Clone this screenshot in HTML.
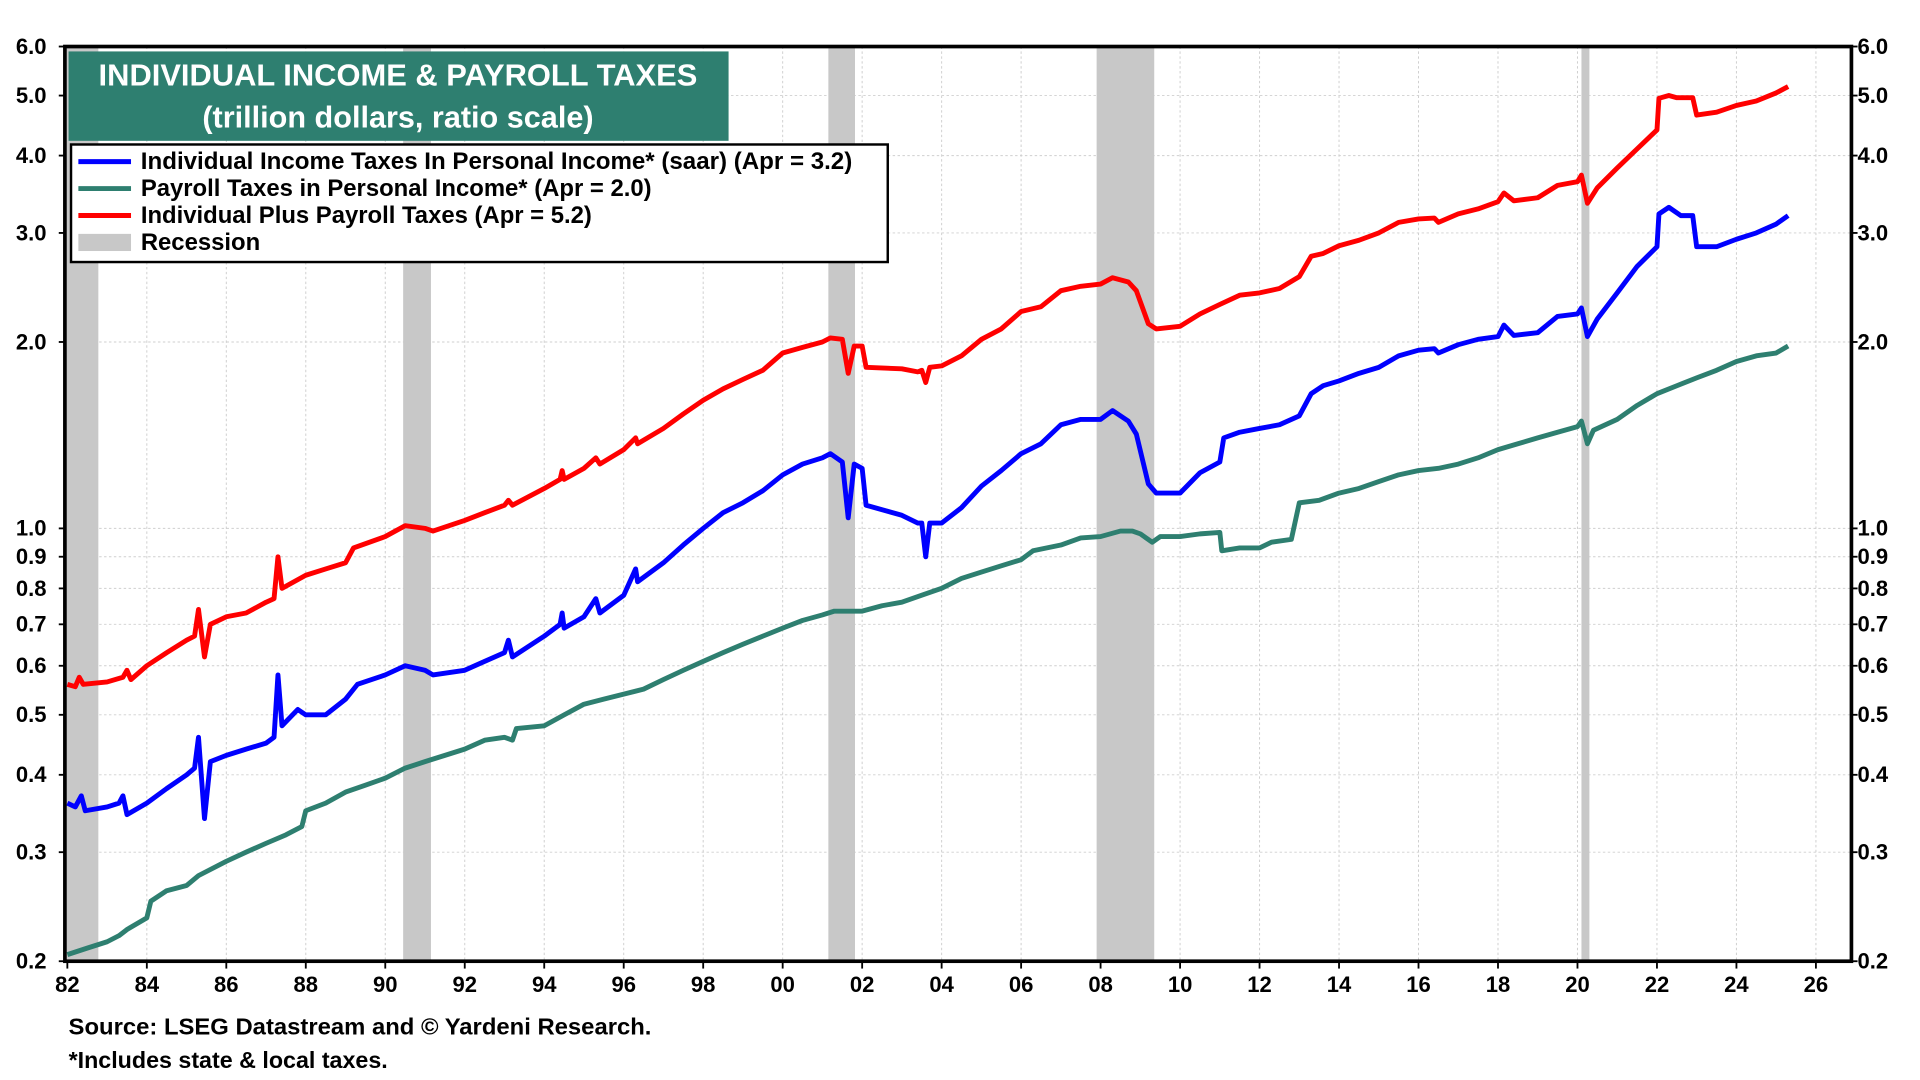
<!DOCTYPE html>
<html><head><meta charset="utf-8"><style>
html,body{margin:0;padding:0;background:#fff;width:1920px;height:1080px;overflow:hidden}
text{font-family:"Liberation Sans",Arial,sans-serif;font-weight:bold}
</style></head><body>
<svg id="chart" xmlns="http://www.w3.org/2000/svg" width="1920" height="1080" viewBox="0 0 1568 882">
<g id="grid"></g>
<g id="rec"></g>
<g id="lines"></g>
<rect x="53" y="38" width="1459" height="747" fill="none" stroke="#000" stroke-width="3"/>
<g id="axes"></g>
<g>
<rect x="56" y="42" width="539" height="73" fill="#2e7f70"/>
<text x="325" y="70" fill="#fff" font-size="25" text-anchor="middle" textLength="489" lengthAdjust="spacingAndGlyphs">INDIVIDUAL INCOME &amp; PAYROLL TAXES</text>
<text x="325" y="104" fill="#fff" font-size="25" text-anchor="middle">(trillion dollars, ratio scale)</text>
</g>
<g>
<rect x="58" y="118" width="667" height="96" fill="#fff" stroke="#000" stroke-width="2"/>
<line x1="64" y1="132" x2="107" y2="132" stroke="#0000ff" stroke-width="4"/>
<text x="115" y="138" font-size="19.5" textLength="581" lengthAdjust="spacingAndGlyphs">Individual Income Taxes In Personal Income* (saar) (Apr = 3.2)</text>
<line x1="64" y1="154" x2="107" y2="154" stroke="#2e7f70" stroke-width="4"/>
<text x="115" y="160" font-size="19.5">Payroll Taxes in Personal Income*  (Apr = 2.0)</text>
<line x1="64" y1="176" x2="107" y2="176" stroke="#ff0000" stroke-width="4"/>
<text x="115" y="182" font-size="19.5">Individual Plus Payroll Taxes (Apr = 5.2)</text>
<rect x="64" y="191" width="43" height="14" fill="#c8c8c8"/>
<text x="115" y="204" font-size="19.5">Recession</text>
</g>
<text x="56" y="845" font-size="19" textLength="476" lengthAdjust="spacingAndGlyphs">Source: LSEG Datastream and © Yardeni Research.</text>
<text x="56" y="872" font-size="19">*Includes state &amp; local taxes.</text>
</svg>
<script>
const yTicks=[6,5,4,3,2,1,0.9,0.8,0.7,0.6,0.5,0.4,0.3,0.2];
const yTickLabels=["6.0","5.0","4.0","3.0","2.0","1.0","0.9","0.8","0.7","0.6","0.5","0.4","0.3","0.2"];
const xTicks=[1982,1984,1986,1988,1990,1992,1994,1996,1998,2000,2002,2004,2006,2008,2010,2012,2014,2016,2018,2020,2022,2024,2026];
const xTickLabels=["82","84","86","88","90","92","94","96","98","00","02","04","06","08","10","12","14","16","18","20","22","24","26"];
const recStart=[1981.55,1990.45,2001.15,2007.9,2020.1];
const recEnd=[1982.78,1991.15,2001.82,2009.35,2020.3];
const redYears=[1982,1982.2,1982.3,1982.4,1983,1983.4,1983.5,1983.6,1984,1984.5,1985,1985.2,1985.3,1985.45,1985.6,1986,1986.5,1987,1987.2,1987.3,1987.4,1988,1988.5,1989,1989.2,1990,1990.5,1991,1991.2,1992,1992.5,1993,1993.1,1993.2,1994,1994.4,1994.45,1994.5,1995,1995.3,1995.4,1996,1996.3,1996.35,1997,1997.5,1998,1998.5,1999,1999.5,2000,2000.5,2001,2001.2,2001.5,2001.65,2001.8,2002,2002.1,2003,2003.4,2003.5,2003.6,2003.7,2004,2004.5,2005,2005.5,2006,2006.5,2007,2007.5,2008,2008.3,2008.7,2008.9,2009.2,2009.4,2010,2010.5,2011,2011.5,2012,2012.5,2013,2013.3,2013.6,2014,2014.5,2015,2015.5,2016,2016.4,2016.5,2017,2017.5,2018,2018.15,2018.4,2019,2019.5,2020,2020.1,2020.25,2020.5,2021,2021.5,2022,2022.05,2022.3,2022.5,2022.9,2023,2023.5,2024,2024.5,2025,2025.3];
const redValues=[0.56,0.555,0.575,0.56,0.565,0.575,0.59,0.57,0.60,0.63,0.66,0.67,0.74,0.62,0.70,0.72,0.73,0.76,0.77,0.90,0.80,0.84,0.86,0.88,0.93,0.97,1.01,1.0,0.99,1.03,1.06,1.09,1.11,1.09,1.16,1.2,1.24,1.2,1.25,1.3,1.27,1.34,1.40,1.37,1.45,1.53,1.61,1.68,1.74,1.80,1.92,1.96,2.0,2.03,2.02,1.78,1.97,1.97,1.82,1.81,1.79,1.80,1.72,1.82,1.83,1.90,2.02,2.10,2.24,2.28,2.42,2.46,2.48,2.54,2.50,2.42,2.14,2.10,2.12,2.22,2.30,2.38,2.40,2.44,2.55,2.75,2.78,2.86,2.92,3.0,3.12,3.16,3.17,3.12,3.22,3.28,3.37,3.48,3.38,3.42,3.58,3.63,3.72,3.35,3.55,3.82,4.1,4.4,4.95,5.0,4.96,4.96,4.65,4.70,4.82,4.90,5.05,5.17];
const blueYears=[1982,1982.2,1982.35,1982.45,1983,1983.3,1983.4,1983.5,1984,1984.5,1985,1985.2,1985.3,1985.45,1985.6,1986,1986.5,1987,1987.2,1987.3,1987.4,1987.8,1988,1988.5,1989,1989.3,1990,1990.5,1991,1991.2,1992,1992.5,1993,1993.1,1993.2,1994,1994.4,1994.45,1994.5,1995,1995.3,1995.4,1996,1996.3,1996.35,1997,1997.5,1998,1998.5,1999,1999.5,2000,2000.5,2001,2001.2,2001.5,2001.65,2001.8,2002,2002.1,2003,2003.4,2003.5,2003.6,2003.7,2004,2004.5,2005,2005.5,2006,2006.5,2007,2007.5,2008,2008.3,2008.7,2008.9,2009.2,2009.4,2010,2010.5,2011,2011.1,2011.5,2012,2012.5,2013,2013.3,2013.6,2014,2014.5,2015,2015.5,2016,2016.4,2016.5,2017,2017.5,2018,2018.15,2018.4,2019,2019.5,2020,2020.1,2020.25,2020.5,2021,2021.5,2022,2022.05,2022.3,2022.6,2022.9,2023,2023.5,2024,2024.5,2025,2025.3];
const blueValues=[0.36,0.355,0.37,0.35,0.355,0.36,0.37,0.345,0.36,0.38,0.40,0.41,0.46,0.34,0.42,0.43,0.44,0.45,0.46,0.58,0.48,0.51,0.50,0.50,0.53,0.56,0.58,0.60,0.59,0.58,0.59,0.61,0.63,0.66,0.62,0.67,0.70,0.73,0.69,0.72,0.77,0.73,0.78,0.86,0.82,0.88,0.94,1.0,1.06,1.10,1.15,1.22,1.27,1.30,1.32,1.28,1.04,1.27,1.25,1.09,1.05,1.02,1.02,0.90,1.02,1.02,1.08,1.17,1.24,1.32,1.37,1.47,1.50,1.50,1.55,1.49,1.42,1.18,1.14,1.14,1.23,1.28,1.40,1.43,1.45,1.47,1.52,1.65,1.70,1.73,1.78,1.82,1.90,1.94,1.95,1.92,1.98,2.02,2.04,2.13,2.05,2.07,2.20,2.22,2.27,2.04,2.18,2.40,2.65,2.85,3.22,3.30,3.20,3.20,2.85,2.85,2.93,3.0,3.10,3.20];
const greenYears=[1982,1982.5,1983,1983.3,1983.5,1984,1984.1,1984.5,1985,1985.3,1986,1986.5,1987,1987.5,1987.9,1988,1988.5,1989,1989.5,1990,1990.5,1991,1991.5,1992,1992.5,1993,1993.2,1993.3,1994,1994.5,1995,1995.5,1996,1996.5,1997,1997.5,1998,1998.5,1999,1999.5,2000,2000.5,2001,2001.3,2002,2002.5,2003,2003.5,2004,2004.5,2005,2005.5,2006,2006.3,2007,2007.5,2008,2008.5,2008.8,2009,2009.3,2009.5,2010,2010.5,2011,2011.05,2011.5,2012,2012.3,2012.8,2013,2013.5,2014,2014.5,2015,2015.5,2016,2016.5,2017,2017.5,2018,2018.5,2019,2019.5,2020,2020.1,2020.25,2020.4,2021,2021.5,2022,2022.5,2023,2023.5,2024,2024.5,2025,2025.3];
const greenValues=[0.205,0.21,0.215,0.22,0.225,0.235,0.25,0.26,0.265,0.275,0.29,0.30,0.31,0.32,0.33,0.35,0.36,0.375,0.385,0.395,0.41,0.42,0.43,0.44,0.455,0.46,0.455,0.475,0.48,0.50,0.52,0.53,0.54,0.55,0.57,0.59,0.61,0.63,0.65,0.67,0.69,0.71,0.725,0.735,0.735,0.75,0.76,0.78,0.80,0.83,0.85,0.87,0.89,0.92,0.94,0.965,0.97,0.99,0.99,0.98,0.95,0.97,0.97,0.98,0.985,0.92,0.93,0.93,0.95,0.96,1.1,1.11,1.14,1.16,1.19,1.22,1.24,1.25,1.27,1.30,1.34,1.37,1.40,1.43,1.46,1.49,1.37,1.44,1.50,1.58,1.65,1.70,1.75,1.80,1.86,1.90,1.92,1.97];
const NS='http://www.w3.org/2000/svg';
const L=53,R=1512,T=38,B=785;
function xs(y){return 55+(y-1982)*(1483-55)/44;}
function ys(v){return B-(B-T)*Math.log(v/0.2)/Math.log(30);}
function mk(tag,attrs,parent){const e=document.createElementNS(NS,tag);for(const k in attrs)e.setAttribute(k,attrs[k]);parent.appendChild(e);return e;}
const grid=document.getElementById('grid'),axes=document.getElementById('axes'),rec=document.getElementById('rec'),lines=document.getElementById('lines');
yTicks.forEach((v,i)=>{
  const y=ys(v);
  const g=mk('line',{x1:L,x2:R,y1:y,y2:y,stroke:'#cfcfcf','stroke-width':0.8,'stroke-dasharray':'2,2'},grid);
  
  
  const t1=mk('text',{x:38,y:y+6,'font-size':18,'text-anchor':'end'},axes);
  t1.textContent=yTickLabels[i];
  
  
  const t2=mk('text',{x:1517,y:y+6,'font-size':18},axes);
  t2.textContent=yTickLabels[i];
  
  
  mk('line',{x1:L,x2:L-5,y1:y,y2:y,stroke:'#000','stroke-width':1.5},axes);
  mk('line',{x1:R,x2:R+5,y1:y,y2:y,stroke:'#000','stroke-width':1.5},axes);
});
xTicks.forEach((yr,i)=>{
  const x=xs(yr);
  const g=mk('line',{x1:x,x2:x,y1:T,y2:B,stroke:'#cfcfcf','stroke-width':0.8,'stroke-dasharray':'2,2'},grid);
  
  
  mk('line',{x1:x,x2:x,y1:B,y2:B+6,stroke:'#000','stroke-width':1.5},axes);
  const t=mk('text',{x:x,y:B+25,'font-size':18,'text-anchor':'middle'},axes);
  t.textContent=xTickLabels[i];
  
  
});
recStart.forEach((s,i)=>{
  const x0=Math.max(L,xs(s)),x1=xs(recEnd[i]);
  const r=mk('rect',{x:x0,y:T,width:x1-x0,height:B-T,fill:'#c8c8c8'},rec);
  
  
});
function drawLine(yrs,vals,color,name){
  const d=yrs.map((y,i)=>(i?'L':'M')+xs(y).toFixed(1)+','+ys(vals[i]).toFixed(1)).join('');
  const p=mk('path',{d:d,fill:'none',stroke:color,'stroke-width':4,'stroke-linejoin':'round'},lines);
  
  
}
drawLine(greenYears,greenValues,'#2e7f70','payroll-taxes-line');
drawLine(blueYears,blueValues,'#0000ff','income-taxes-line');
drawLine(redYears,redValues,'#ff0000','total-taxes-line');
</script>
</body></html>
